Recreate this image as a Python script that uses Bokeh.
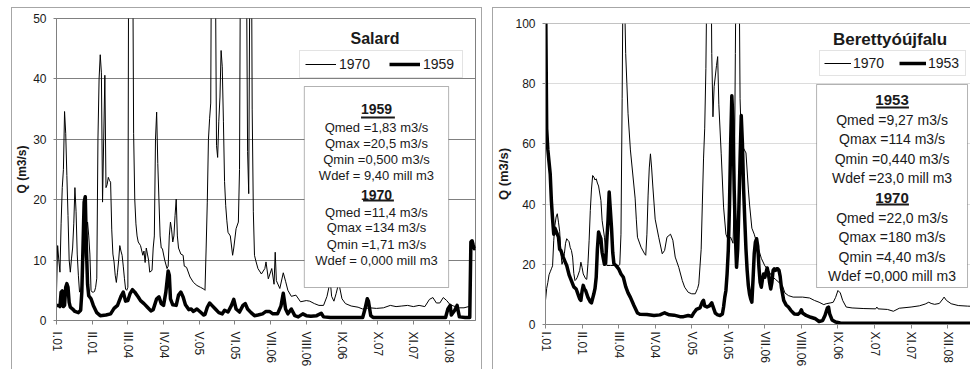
from bokeh.plotting import figure
from bokeh.models import (Range1d, FixedTicker, Legend, LegendItem, Label,
                          BoxAnnotation, Span)
from bokeh.layouts import row, column
from bokeh.embed import file_html
from bokeh.resources import INLINE

FONT = "Liberation Sans"
TXT = "#1a1a1a"

# ---------------- data ----------------
tick_days = [0, 31, 62, 93, 124, 155, 186, 217, 248, 279, 310, 341]
tick_labels = ["I.01", "II.01", "III.04", "IV.04", "V.05", "VI.05",
               "VII.06", "VIII.06", "IX.06", "X.07", "XI.07", "XII.08"]

salard_yticks = [0, 10, 20, 30, 40, 50]
berettyo_yticks = [0, 20, 40, 60, 80, 100]

# Salard, 1970 (thin line)
salard_1970_day = [0, 1, 2, 3, 4, 5, 6, 7, 8, 9, 10, 11, 12, 13, 14, 15, 16, 17, 18, 19,
                   20, 21, 22, 23, 24, 25, 26, 27, 28, 29, 30, 31, 32, 33, 34, 35, 36, 37, 38, 39,
                   40, 41, 42, 43, 44, 45, 46, 47, 48, 49, 50, 51, 52, 53, 54, 55, 56, 57, 58, 59,
                   60, 61, 62, 63, 64, 65, 66, 67, 68, 69, 70, 71, 73, 75, 76, 77, 78, 79, 80, 81,
                   83, 84, 85, 86, 87, 88, 89, 90, 91, 92, 94, 96, 97, 98, 99, 100, 101, 102, 103, 104,
                   105, 106, 108, 110, 111, 113, 116, 119, 122, 125, 128, 129, 130, 131, 132, 133, 134, 135, 136, 137,
                   138, 139, 140, 141, 142, 143, 144, 145, 146, 147, 148, 149, 151, 153, 154, 156, 158, 159, 160, 161,
                   162, 163, 164, 165, 166, 167, 168, 169, 170, 171, 172, 173, 175, 178, 181, 182, 184, 187, 189, 190,
                   191, 194, 197, 199, 201, 204, 208, 212, 217, 220, 224, 228, 232, 235, 237, 238, 239, 241, 243, 245,
                   246, 248, 251, 256, 262, 266, 272, 278, 284, 290, 295, 300, 305, 310, 315, 320, 324, 327, 330, 333,
                   336, 339, 342, 345, 350, 354, 358, 359, 360, 361, 362, 363, 364]
salard_1970_q = [4.7, 12.4, 10, 8, 16, 22, 25, 34.6, 31, 24, 17.4, 10, 8, 10.2, 12, 16, 22, 18, 11, 7.5,
                 4.7, 4.9, 6, 9, 11, 13, 15, 16.3, 14, 11, 5, 4.7, 4.7, 4.8, 5.5, 7, 30, 40, 44, 41,
                 19.6, 30, 40.6, 22, 22.5, 23.7, 23.2, 22.9, 15, 11, 9.7, 7.5, 6.3, 8, 10, 12.4, 11.5, 10.8, 9, 7,
                 5.2, 5.0, 5.5, 90, 134, 110, 70, 31, 20, 16, 14, 13, 12.4, 10.8, 11.5, 9.6, 12, 11, 10, 8,
                 8.3, 12, 14, 30, 34.5, 26, 20, 14, 12, 11.9, 10, 8.6, 9, 14, 16.3, 15, 13, 14, 17.4, 20.1,
                 14, 12, 11, 10.8, 9, 8.8, 7.2, 6.3, 5.8, 5.5, 5.2, 5.0, 12, 19.6, 30, 33.4, 36, 80, 110, 90,
                 60, 29, 27, 33, 37, 44.7, 42, 33, 23, 19, 16.5, 14.6, 14, 10.8, 12, 15.2, 16.3, 25, 70, 100,
                 120, 110, 85, 60, 28, 21, 60, 80, 35, 18, 10.8, 10, 8.6, 7.7, 8.6, 9.7, 6.9, 8.6, 6, 11.3,
                 6.6, 5.3, 7.9, 6.5, 5, 4, 4.2, 3.1, 3.3, 3.2, 2.8, 2.5, 2.5, 4, 5.8, 6.2, 4, 3.2, 4.5, 6.1,
                 5.5, 3.6, 2.8, 2.4, 2.2, 1.9, 2.1, 2.0, 2.1, 2.5, 2.3, 2.4, 2.5, 2.3, 2.5, 2.3, 3.5, 3.8, 2.9, 2.9,
                 3.8, 3.3, 2.6, 2.4, 2.1, 2.1, 2.3, 2.3, 10, 13, 12, 12.5, 12]

# Salard, 1959 (thick line)
salard_1959_day = [0, 2, 3, 4, 5, 6, 7, 8, 9, 10, 11, 12, 14, 16, 19, 21, 22, 23, 24, 25,
                   26, 27, 28, 30, 32, 35, 38, 43, 47, 50, 53, 56, 58, 60, 62, 64, 66, 68, 71, 73,
                   76, 79, 82, 84, 87, 89, 91, 93, 95, 97, 98, 99, 101, 104, 106, 108, 110, 112, 115, 117,
                   119, 122, 125, 128, 129, 131, 133, 135, 138, 141, 144, 146, 149, 152, 154, 156, 159, 162, 164, 166,
                   169, 172, 175, 179, 182, 185, 188, 192, 195, 197, 199, 201, 204, 207, 210, 214, 217, 221, 226, 230,
                   232, 238, 250, 260, 266, 268, 270, 271, 273, 275, 290, 310, 330, 338, 340, 342, 343, 346, 348, 350,
                   355, 359, 360, 361, 362, 363, 364]
salard_1959_q = [2.5, 2.5, 2.3, 4.7, 4.9, 2.3, 2.5, 5.5, 6.1, 5.5, 3.0, 2.2, 1.9, 1.5, 1.3, 1.7, 4.7, 12, 19.6, 20.5,
                 11.9, 6, 4.1, 3.6, 2.5, 1.3, 0.8, 0.9, 1.1, 2.0, 2.5, 4.0, 4.7, 3.2, 3.3, 4.5, 5.1, 4.7, 3.9, 3.3,
                 2.8, 2.2, 1.6, 1.8, 3.6, 3.9, 2.8, 2.5, 4.7, 8.2, 7.5, 3.6, 2.6, 2.5, 4.2, 4.7, 3.9, 2.6, 1.8, 1.9,
                 1.5, 1.9, 1.4, 0.9, 1.0, 2.2, 2.9, 2.5, 1.9, 1.3, 1.1, 1.7, 1.4, 2.5, 3.5, 1.9, 1.4, 2.5, 2.8, 1.9,
                 1.3, 0.8, 0.9, 1.1, 1.5, 1.5, 1.1, 1.1, 2.4, 4.5, 1.9, 1.1, 1.9, 0.8, 0.6, 1.1, 0.8, 0.7, 0.8, 1.2,
                 0.6, 0.5, 0.5, 0.5, 0.5, 1.9, 3.6, 3.2, 0.8, 0.5, 0.5, 0.5, 0.5, 0.5, 1.9, 2.5, 0.9, 1.7, 2.5, 0.6,
                 0.5, 0.5, 13, 13.2, 12.5, 11.9, 12]

# Berettyoujfalu, 1970 (thin line)
berettyo_1970_day = [0, 1, 2, 3, 4, 5, 6, 7, 8, 9, 10, 11, 12, 13, 14, 15, 16, 17, 18, 19,
                     20, 21, 22, 23, 24, 25, 26, 27, 29, 30, 31, 32, 34, 35, 36, 37, 38, 39, 40, 41,
                     42, 43, 44, 45, 47, 48, 50, 51, 52, 55, 58, 60, 62, 63, 64, 65, 66, 67, 68, 69,
                     70, 72, 74, 76, 77, 78, 81, 84, 85, 86, 87, 88, 89, 90, 91, 93, 96, 99, 101, 103,
                     106, 108, 110, 113, 116, 118, 121, 124, 127, 129, 130, 132, 133, 134, 135, 136, 137, 138, 139, 140,
                     141, 142, 143, 145, 146, 147, 149, 151, 153, 155, 157, 159, 160, 161, 162, 163, 164, 165, 166, 168,
                     170, 172, 173, 175, 177, 180, 183, 186, 189, 192, 195, 198, 201, 203, 206, 210, 218, 224, 228, 232,
                     236, 238, 242, 244, 246, 248, 250, 252, 255, 260, 270, 280, 281, 282, 290, 295, 300, 310, 317, 322,
                     325, 327, 330, 334, 337, 338, 340, 344, 350, 358, 364]
berettyo_1970_q = [8, 12, 14, 16.5, 17.5, 18.5, 19.5, 28, 33, 35.7, 36.8, 34, 31, 24, 20, 21.3, 23.5, 27, 28.5, 28,
                   27.5, 25.5, 24.6, 22.4, 17, 14.6, 15, 15.7, 18, 20.7, 19, 16.8, 15.2, 15, 20.2, 28, 37.9, 45, 49.5, 49,
                   48, 48.4, 47, 46, 41.2, 34.6, 29, 23.5, 19.6, 19.6, 19.6, 19.5, 19.5, 20, 30, 75, 130, 110, 90, 80,
                   70, 58, 50, 42, 35, 29, 25.7, 23.5, 23, 30, 43, 52, 56.7, 52, 46, 35, 29, 23.5, 24.6, 29,
                   30, 28, 22.4, 19, 14.6, 12.4, 10.7, 10.2, 10.2, 12, 13.5, 25, 40, 55, 65, 85, 120, 160, 180, 140,
                   90, 69, 79, 86, 89, 73, 56.7, 39, 30, 28, 29, 27, 40, 90, 140, 160, 130, 75, 62, 58.5,
                   57, 45, 40, 32, 30, 26, 22, 19.5, 18, 16, 15, 14, 12.8, 10.5, 9.6, 9.1, 9.1, 8.8, 8, 7.4,
                   6.6, 6.9, 7.2, 7.4, 9, 11.3, 10.5, 8, 5.8, 5.5, 5.3, 5.2, 5.8, 5.2, 5.0, 4.4, 5.4, 5.8, 6.2, 6.8,
                   7.4, 7, 6.7, 7, 8.5, 9.1, 8, 6.9, 6.3, 6.1, 6]

# Berettyoujfalu, 1953 (thick line)
berettyo_1953_day = [0, 1, 2, 3, 4, 5, 6, 7, 8, 9, 10, 11, 12, 13, 15, 17, 18, 20, 22, 24,
                     26, 28, 29, 30, 31, 32, 33, 34, 36, 38, 39, 41, 42, 43, 44, 45, 46, 47, 48, 50,
                     51, 52, 53, 54, 55, 56, 57, 58, 60, 62, 64, 66, 68, 70, 72, 75, 78, 80, 86, 92,
                     97, 101, 102, 105, 109, 114, 117, 121, 124, 126, 128, 131, 133, 134, 135, 137, 139, 141, 142, 144,
                     146, 148, 150, 151, 152, 153, 154, 155, 156, 157, 158, 159, 160, 161, 162, 163, 164, 165, 166, 167,
                     168, 169, 170, 171, 172, 173, 174, 175, 176, 177, 178, 179, 180, 181, 182, 183, 184, 185, 186, 188,
                     189, 190, 191, 192, 193, 194, 195, 196, 197, 198, 199, 200, 202, 204, 206, 208, 211, 214, 216, 217,
                     218, 221, 225, 229, 232, 235, 237, 239, 240, 241, 243, 246, 250, 256, 280, 300, 330, 364]
berettyo_1953_q = [114, 65, 58, 54, 50, 41, 35, 30, 32, 31, 30, 29, 25, 24.6, 22.4, 20.5, 19.6, 16.5, 14.5, 12.5,
                   11.8, 9.6, 8.5, 8, 11, 13, 11.8, 11.3, 9, 7.5, 7.2, 10.2, 12, 15.7, 25, 30.7, 29.5, 28.5, 24, 20,
                   20.5, 28, 34.5, 44, 38, 32, 24, 20.2, 19.5, 18.5, 16.8, 15.7, 12.6, 10.5, 9, 6.3, 3.8, 3.4, 3.3, 3.0,
                   3.2, 3.9, 3.7, 3.2, 3.1, 2.6, 2.6, 3.0, 2.7, 4, 5.0, 5.5, 7.5, 8, 6.2, 5.8, 6.2, 7.2, 6, 3.8,
                   3.2, 3, 3.5, 5.8, 9, 11.3, 16.8, 24.6, 39, 60, 76, 67.8, 45, 30, 19, 25, 39, 55, 69.4, 60,
                   45, 34.6, 25, 18, 13, 10.2, 8.5, 7.4, 15, 23.5, 27.4, 28.5, 26, 19, 14, 12.4, 15, 16.8, 15.7, 18.8,
                   17, 14, 11.8, 14, 18, 18.5, 18, 18.5, 18.5, 18, 16, 12.4, 8, 6.5, 5.8, 4.7, 3.5, 3.4, 4, 4.9,
                   3.8, 3, 2.4, 1.9, 1.0, 1.3, 3, 5.5, 5.8, 3.5, 1.5, 0.8, 0.5, 0.44, 0.45, 0.44, 0.45, 0.45]

salard_stats = [("1959", True), ("Qmed =1,83 m3/s", False), ("Qmax =20,5 m3/s", False),
                ("Qmin =0,500 m3/s", False), ("Wdef = 9,40 mill m3", False),
                ("1970", True), ("Qmed =11,4 m3/s", False), ("Qmax =134 m3/s", False),
                ("Qmin =1,71 m3/s", False), ("Wdef = 0,000 mill m3", False)]
berettyo_stats = [("1953", True), ("Qmed =9,27 m3/s", False), ("Qmax =114 m3/s", False),
                  ("Qmin =0,440 m3/s", False), ("Wdef =23,0 mill m3", False),
                  ("1970", True), ("Qmed =22,0 m3/s", False), ("Qmax =180 m3/s", False),
                  ("Qmin =4,40 m3/s", False), ("Wdef =0,000 mill m3", False)]
y_title = "Q (m3/s)"


def make_panel(cfg):
    p = figure(width=cfg["w"], height=cfg["h"],
               x_range=Range1d(0, cfg["xend"]), y_range=Range1d(0, cfg["ymax"]),
               output_backend="svg", toolbar_location=None, title_location=None,
               min_border_left=cfg["mbl"], min_border_right=cfg["mbr"],
               min_border_top=cfg["mbt"], min_border_bottom=cfg["mbb"])
    p.background_fill_color = "white"
    p.border_fill_color = "white"
    p.outline_line_color = cfg["outline"]

    # axes
    p.xaxis.ticker = FixedTicker(ticks=tick_days)
    p.xaxis.major_label_overrides = {d: s for d, s in zip(tick_days, tick_labels)}
    p.xaxis.major_label_orientation = "vertical"
    p.xaxis.major_tick_out = 4
    p.xaxis.major_tick_in = 0
    p.xaxis.minor_tick_line_color = None
    p.xaxis.major_label_standoff = cfg["xstand"]
    p.xaxis.major_label_text_font_size = cfg["xfs"]
    p.xaxis.axis_label = None
    p.xaxis.axis_label_standoff = 0
    p.yaxis.ticker = FixedTicker(ticks=cfg["yticks"])
    p.yaxis.major_tick_out = 3
    p.yaxis.major_tick_in = 0
    p.yaxis.minor_tick_line_color = None
    p.yaxis.major_label_standoff = 7
    p.yaxis.major_label_text_font_size = "12px"
    p.yaxis.axis_label = y_title
    p.yaxis.axis_label_standoff = 1
    p.yaxis.axis_label_text_font = FONT
    p.yaxis.axis_label_text_font_size = cfg["ylab_fs"]
    p.yaxis.axis_label_text_font_style = "bold"
    p.yaxis.axis_label_text_color = TXT
    for ax in (p.xaxis, p.yaxis):
        ax.axis_line_color = cfg["axc"]
        ax.major_tick_line_color = cfg["axc"]
        ax.major_label_text_font = FONT
        ax.major_label_text_color = TXT
    p.xgrid.visible = False
    p.ygrid.grid_line_color = cfg["gridc"]
    p.ygrid.grid_line_width = 1

    thin = p.line(cfg["thin_x"], cfg["thin_y"], line_color="black", line_width=1)
    thick = p.line(cfg["thick_x"], cfg["thick_y"], line_color="black", line_width=3.5,
                   line_join="round")

    X = cfg["px2x"]
    Y = cfg["px2y"]

    if cfg.get("topspan"):
        p.add_layout(Span(location=cfg["ymax"], dimension="width",
                          line_color=cfg["axc"], line_width=1))

    leg = Legend(items=[LegendItem(label=cfg["thin_name"], renderers=[thin]),
                        LegendItem(label=cfg["thick_name"], renderers=[thick])],
                 location=cfg["leg_loc"], orientation="horizontal",
                 padding=cfg["leg_pad"], spacing=cfg["leg_sp"],
                 glyph_width=cfg["leg_gw"], glyph_height=14,
                 label_width=cfg["leg_lw"], label_height=14, label_standoff=cfg["leg_ls"],
                 label_text_font=FONT, label_text_font_size="14px", label_text_color=TXT,
                 border_line_color="#c8c8c8", border_line_width=1,
                 background_fill_color="white", background_fill_alpha=1.0, margin=0)
    p.add_layout(leg)

    p.add_layout(Label(x=X(cfg["title_xy"][0]), y=Y(cfg["title_xy"][1]), text=cfg["title"],
                       text_align="center", text_baseline="middle", text_font=FONT,
                       text_font_size=cfg["title_fs"], text_font_style="bold", text_color=TXT))

    bl, br, bt, bb = cfg["box"]
    p.add_layout(BoxAnnotation(left=X(bl), right=X(br), top=Y(bt), bottom=Y(bb),
                               fill_color="white", fill_alpha=1.0,
                               line_color="black", line_width=1))
    cx = (bl + br) / 2
    for (txt, bold), yy in zip(cfg["stats"], cfg["stat_y"]):
        p.add_layout(Label(x=X(cx), y=Y(yy), text=txt, text_align="center",
                           text_baseline="middle", text_font=FONT,
                           text_font_size=cfg["hdr_fs"] if bold else cfg["stat_fs"],
                           text_font_style="bold" if bold else "normal", text_color=TXT))
    for (ul, ur, uy) in cfg["underlines"]:
        p.add_layout(BoxAnnotation(left=X(ul), right=X(ur), top=Y(uy - 1), bottom=Y(uy + 1),
                                   fill_color=TXT, fill_alpha=1.0, line_alpha=0))
    return p


LX0, LX1, LY0, LY1 = 54, 475, 320, 18
RX0, RX1, RY0, RY1 = 542, 970, 324, 23
R_XEND = 360.4

left_cfg = dict(
    w=469, h=361, xend=364, ymax=50, mbl=42, mbr=6, mbt=10, mbb=49,
    outline="#808080", axc="#808080", gridc="#808080",
    xstand=7, xfs="12px", yticks=salard_yticks, ylab_fs="12px",
    thin_x=salard_1970_day, thin_y=salard_1970_q, thick_x=salard_1959_day, thick_y=salard_1959_q,
    thin_name="1970", thick_name="1959",
    px2x=lambda px: (px - LX0) * 364 / (LX1 - LX0),
    px2y=lambda py: (LY0 - py) * 50 / (LY0 - LY1),
    leg_loc=(297 - LX0, LY0 - 78), leg_pad=5, leg_sp=16, leg_gw=31, leg_lw=34, leg_ls=3,
    title="Salard", title_xy=(374, 38), title_fs="16px",
    box=(303, 448, 86, 287), stats=salard_stats,
    stat_y=[108, 127, 143, 159, 175, 194, 212, 227, 244, 260],
    hdr_fs="14px", stat_fs="13px",
    underlines=[(360, 394, 117), (362, 393, 200)],
)

right_cfg = dict(
    w=477, h=361, xend=R_XEND, ymax=100, mbl=49, mbr=0, mbt=15, mbb=45,
    outline=None, axc="#868686", gridc="#dcdcdc", topspan=True,
    xstand=3, xfs="12px", yticks=berettyo_yticks, ylab_fs="13px",
    thin_x=berettyo_1970_day, thin_y=berettyo_1970_q, thick_x=berettyo_1953_day, thick_y=berettyo_1953_q,
    thin_name="1970", thick_name="1953",
    px2x=lambda px: (px - RX0) * R_XEND / (RX1 - RX0),
    px2y=lambda py: (RY0 - py) * 100 / (RY0 - RY1),
    leg_loc=(816 - RX0, RY0 - 76), leg_pad=4, leg_sp=13, leg_gw=27, leg_lw=33, leg_ls=2,
    title="Berettyóújfalu", title_xy=(889, 39), title_fs="17px",
    box=(815, 967, 84, 287), stats=berettyo_stats,
    stat_y=[99, 119, 138, 158, 177, 197, 217, 236, 256, 275],
    hdr_fs="15px", stat_fs="14px",
    underlines=[(875, 908, 107), (875, 908, 204)],
)

p1 = make_panel(left_cfg)
p2 = make_panel(right_cfg)

# each chart in its own bordered box (the Excel chart area)
c1 = column(p1, margin=(7, 0, 0, 11),
            styles={"border-left": "1px solid #a6a6a6", "border-top": "1px solid #a6a6a6",
                    "border-right": "1px solid #a6a6a6"})
c2 = column(p2, margin=(7, 0, 0, 10),
            styles={"border-left": "1px solid #a6a6a6", "border-top": "1px solid #a6a6a6"})
layout = row(c1, c2)

open("out.html", "w").write(file_html(layout, INLINE))
